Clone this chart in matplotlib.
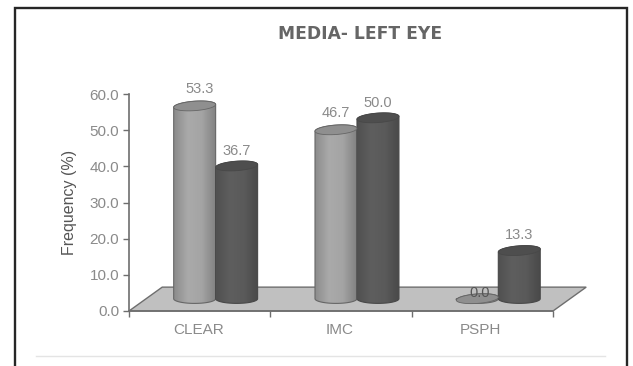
import numpy as np
import matplotlib
matplotlib.use('Agg')
import matplotlib.pyplot as plt
from matplotlib.colors import LinearSegmentedColormap
from matplotlib.patches import Polygon, Rectangle

categories = ['CLEAR', 'IMC', 'PSPH']
series_a = [53.3, 46.7, 0.0]
series_b = [36.7, 50.0, 13.3]
yticks = [0, 10, 20, 30, 40, 50, 60]

W, H = 633, 366
plt.rcParams['font.family'] = ['Liberation Sans', 'DejaVu Sans']
TXT = '#8a8a8a'

fig = plt.figure(figsize=(W / 100, H / 100), dpi=100)

# page frame
bg = fig.add_axes([0, 0, 1, 1])
bg.set_xlim(0, W)
bg.set_ylim(H, 0)
bg.axis('off')
bg.add_patch(Rectangle((14.5, 8), 612.5, 370, fc='white', ec='#262626', lw=1.7))
bg.plot([36, 605], [356, 356], color='#e4e4e4', lw=1)

# chart axes, 129..553 px wide and 94..311 px tall
ax = fig.add_axes([129 / W, 1 - 311 / H, 424 / W, 217 / H])
ax.set_xlim(0, 3)
ax.set_ylim(0, 60)
ax.patch.set_alpha(0)
for s in ['top', 'right']:
    ax.spines[s].set_visible(False)
for s in ['left', 'bottom']:
    ax.spines[s].set_color('#6e6e6e')
    ax.spines[s].set_linewidth(1.2)

ax.set_xticks([0, 1, 2, 3])
ax.set_xticklabels([])
ax.set_yticks(yticks)
ax.set_yticklabels(['%.1f' % t for t in yticks], color=TXT, fontsize=11)
ax.tick_params(axis='both', color='#6e6e6e', length=4, width=1, pad=3)
for i, c in enumerate(categories):
    ax.text(i + 0.49, -3.2, c, color=TXT, fontsize=11, ha='center', va='top')
ax.set_ylabel('Frequency (%)', color='#555555', fontsize=11.5, labelpad=9)

# floor
depth_x, depth_y = 0.235, 6.6
ax.add_patch(Polygon([(0, 0), (3, 0), (3 + depth_x, depth_y), (depth_x, depth_y)],
                     fc='#c0c0c0', ec='#6e6e6e', lw=1, clip_on=False, zorder=1))

light = LinearSegmentedColormap.from_list('l', ['#8c8c8c', '#aaaaaa', '#a4a4a4', '#828282'])
dark = LinearSegmentedColormap.from_list('d', ['#505050', '#5e5e5e', '#5a5a5a', '#4a4a4a'])

bar_w = 0.297
shift = 0.113
lift = 3.4
ry = 1.3
tilt = 0.4


def cylinder(x0, val, cmap, top_col, edge, label_dx, label_dy, label_col):
    rx = bar_w / 2
    xc = x0 + rx
    t = np.linspace(0, np.pi, 40)
    top = val + lift
    # body outline: left side up, back over the top, right side down, front arc
    xs = np.r_[xc - rx * np.cos(t), xc + rx * np.cos(t)]
    ys = np.r_[top + ry * np.sin(t) - tilt * np.cos(t), lift - ry * np.sin(t)]
    patch = Polygon(np.column_stack([xs, ys]), closed=True, fc='none', ec=edge, lw=0.8,
                    clip_on=False, zorder=3)
    grad = np.linspace(0, 1, 64).reshape(1, -1)
    im = ax.imshow(grad, cmap=cmap, extent=[x0, x0 + bar_w, lift - ry, top + ry + tilt],
                   aspect='auto', zorder=2.9, vmin=0, vmax=1)
    ax.add_patch(patch)
    im.set_clip_path(patch)
    # top cap
    t2 = np.linspace(0, 2 * np.pi, 80)
    ax.add_patch(Polygon(np.column_stack([xc + rx * np.cos(t2),
                                          top + ry * np.sin(t2) + tilt * np.cos(t2)]),
                         closed=True, fc=top_col, ec=edge, lw=0.6, clip_on=False, zorder=3.1))
    ax.annotate('%.1f' % val, (xc, top), xytext=(label_dx, label_dy), textcoords='offset points',
                color=label_col, fontsize=10.5, ha='center', va='center', zorder=5,
                annotation_clip=False)


for i in range(3):
    edge_x = i + 0.5 + shift
    # the 0.0 label sits almost on its flat cylinder, the 53.3 one is pushed right
    dx_a = 3.5 if i == 0 else 2 if i == 2 else 0
    dy_a = 4 if i == 2 else 12
    col_a = '#555555' if i == 2 else TXT
    cylinder(edge_x - bar_w, series_a[i], light, '#8f8f8f', '#666666', dx_a, dy_a, col_a)
    cylinder(edge_x, series_b[i], dark, '#4e4e4e', '#484848', 0, 11, TXT)

ax.set_xlim(0, 3)
ax.set_ylim(0, 60)

fig.text(360.5 / W, 1 - 34 / H, 'MEDIA- LEFT EYE', color='#666666', fontsize=12.3,
         family='DejaVu Sans', fontweight='bold', ha='center', va='center')

fig.savefig('out.png', dpi=100)
